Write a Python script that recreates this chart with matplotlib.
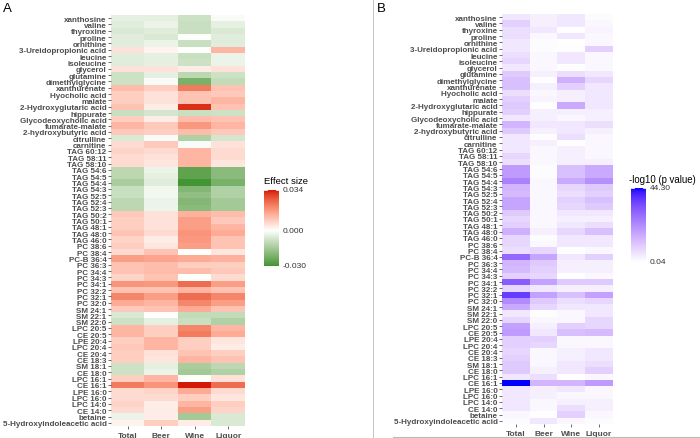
import numpy as np
import matplotlib
matplotlib.use("Agg")
import matplotlib.pyplot as plt
from matplotlib.colors import ListedColormap, Normalize
from matplotlib.lines import Line2D

plt.rcParams['font.family'] = ['Liberation Sans', 'DejaVu Sans']

metabolites = [
    "xanthosine", "valine", "thyroxine", "proline", "ornithine",
    "3-Ureidopropionic acid", "leucine", "isoleucine", "glycerol", "glutamine",
    "dimethylglycine", "xanthurenate", "Hyocholic acid", "malate",
    "2-Hydroxyglutaric acid", "hippurate", "Glycodeoxycholic acid",
    "fumarate-malate", "2-hydroxybutyric acid", "citrulline", "carnitine",
    "TAG 60:12", "TAG 58:11", "TAG 58:10", "TAG 54:6", "TAG 54:5", "TAG 54:4",
    "TAG 54:3", "TAG 52:5", "TAG 52:4", "TAG 52:3", "TAG 50:2", "TAG 50:1",
    "TAG 48:1", "TAG 48:0", "TAG 46:0", "PC 38:6", "PC 38:4", "PC-B 36:4",
    "PC 36:3", "PC 34:4", "PC 34:3", "PC 34:1", "PC 32:2", "PC 32:1", "PC 32:0",
    "SM 24:1", "SM 22:1", "SM 22:0", "LPC 20:5", "CE 20:5", "LPE 20:4",
    "LPC 20:4", "CE 20:4", "CE 18:3", "SM 18:1", "CE 18:0", "LPC 16:1",
    "CE 16:1", "LPE 16:0", "LPC 16:0", "LPC 14:0", "CE 14:0", "betaine",
    "5-Hydroxyindoleacetic acid",
]
groups = ["Total", "Beer", "Wine", "Liquor"]

total_es = [-0.004, -0.005, -0.006, -0.005, -0.005, 0.005, -0.005, -0.005, 0.005, -0.008,
            -0.008, 0.011, 0.008, 0.008, 0.010, -0.009, 0.008, 0.012, 0.009, -0.006,
            0.006, 0.007, 0.006, 0.006, -0.011, -0.011, -0.014, -0.009, -0.009, -0.011,
            -0.011, 0.009, 0.008, 0.008, 0.010, 0.007, 0.008, 0.006, 0.016, 0.010,
            0.010, 0.007, 0.018, 0.010, 0.020, 0.014, 0.009, -0.006, -0.008, 0.012,
            0.012, 0.008, 0.009, 0.008, 0.008, -0.008, -0.008, 0.008, 0.022, 0.006,
            0.006, 0.007, 0.006, -0.003, 0.002]
beer_es = [-0.004, -0.003, -0.005, -0.006, -0.003, 0.002, -0.004, -0.004, 0.005, -0.004,
           -0.001, 0.008, 0.005, 0.005, 0.003, -0.007, 0.003, 0.009, 0.008, -0.001,
           0.009, 0.006, 0.005, 0.004, -0.003, -0.004, -0.005, -0.002, -0.002, -0.003,
           -0.003, 0.005, 0.005, 0.005, 0.006, 0.003, 0.004, 0.010, 0.015, 0.011,
           0.011, 0.010, 0.017, 0.010, 0.016, 0.012, 0.010, 0.000, -0.004, 0.008,
           0.008, 0.012, 0.012, 0.005, 0.004, -0.004, -0.003, 0.012, 0.018, 0.007,
           0.006, 0.003, 0.003, 0.003, 0.008]
wine_es = [-0.008, -0.009, -0.009, 0.000, -0.009, 0.000, -0.009, -0.008, 0.003, -0.011,
           -0.022, 0.022, 0.010, 0.010, 0.032, -0.009, 0.011, 0.017, 0.011, -0.013,
           -0.001, 0.012, 0.012, 0.012, -0.026, -0.026, -0.030, -0.020, -0.018, -0.020,
           -0.019, 0.013, 0.016, 0.016, 0.018, 0.017, 0.016, 0.000, 0.014, 0.008,
           0.011, 0.000, 0.024, 0.012, 0.024, 0.020, 0.014, -0.010, -0.009, 0.020,
           0.022, 0.008, 0.008, 0.010, 0.012, -0.014, -0.015, 0.000, 0.034, 0.014,
           0.008, 0.012, 0.016, -0.015, 0.003]
liquor_es = [-0.001, -0.004, -0.006, -0.005, -0.005, 0.012, -0.003, -0.003, 0.005, -0.008,
             -0.010, 0.010, 0.009, 0.012, 0.010, -0.008, 0.010, 0.012, 0.009, -0.007,
             0.005, 0.006, 0.006, 0.004, -0.019, -0.019, -0.022, -0.013, -0.013, -0.015,
             -0.015, 0.011, 0.009, 0.012, 0.014, 0.010, 0.010, 0.004, 0.013, 0.008,
             0.009, 0.006, 0.016, 0.010, 0.020, 0.016, 0.010, -0.010, -0.013, 0.012,
             0.014, 0.004, 0.003, 0.008, 0.010, -0.011, -0.013, 0.005, 0.024, 0.006,
             0.004, 0.008, 0.007, -0.006, -0.006]

total_p = [4.5, 9, 6, 6, 4.5, 4.5, 6, 7.5, 4.5, 10, 12, 12, 6, 9, 10, 9, 4.5, 14, 10, 4.5,
           4.5, 4.5, 7.5, 6, 19, 19, 24, 14, 13, 17, 17, 10, 7.5, 9, 15, 7.5, 7.5, 6, 29, 14,
           13, 9, 31, 7.5, 37, 22, 16, 4.5, 7.5, 18, 19, 9, 9, 7.5, 9, 10, 10, 4.5, 44.30, 4.5,
           4.5, 4.5, 4.5, 1.5, 0.8]
beer_p = [3, 3, 4.5, 1.5, 0.8, 0.8, 1.5, 1.5, 1.5, 3, 0.2, 3, 1.5, 2.2, 0.2, 3, 3, 4.5, 3, 0.4,
          3, 1.5, 1.5, 1.5, 0.8, 0.8, 1.5, 1.5, 1.5, 1.5, 1.5, 1.5, 1.5, 1.5, 3, 0.8, 1.5, 7.5, 17, 10,
          9, 7.5, 18, 4.5, 18, 10, 7.5, 0.4, 1.5, 3, 4.5, 9, 7.5, 1.5, 1.5, 1.5, 3, 6, 14, 3,
          3, 1.5, 1.5, 0.2, 4.5]
wine_p = [4.5, 4.5, 0.2, 4.5, 0.2, 0.4, 4.5, 4.5, 0.2, 6, 15, 9, 3, 3, 16, 3, 1.5, 4.5, 4.5, 6,
          0.2, 3, 3, 3, 12, 12, 16, 7.5, 6, 9, 7.5, 4.5, 3, 4.5, 7.5, 4.5, 4.5, 0.2, 4.5, 3,
          3, 0.2, 10, 3, 12, 6, 4.5, 1.5, 1.5, 9, 12, 1.5, 1.5, 3, 3, 4.5, 4.5, 0.2, 14, 4.5,
          1.5, 3, 6, 9, 1.5]
liquor_p = [0.8, 1.5, 2.2, 1.5, 1.5, 9, 1.5, 1.5, 1.5, 4.5, 7.5, 4.5, 4.5, 4.5, 4.5, 3, 3, 6, 3, 1.5,
            1.5, 1.5, 1.5, 3, 16, 16, 21, 10, 9, 12, 10, 4.5, 3, 6, 12, 4.5, 4.5, 1.5, 9, 3,
            3, 1.5, 10, 3, 18, 7.5, 4.5, 4.5, 7.5, 7.5, 13, 1.5, 1.5, 4.5, 4.5, 6, 9, 1.5, 19, 1.5,
            1.5, 3, 3, 1.5, 0.8]

es_min, es_max = -0.030, 0.034
p_min, p_max = 0.04, 44.30

# ---------- Lab colour ramps (like ggplot2) ----------
M = np.array([[0.4124564, 0.3575761, 0.1804375],
              [0.2126729, 0.7151522, 0.0721750],
              [0.0193339, 0.1191920, 0.9503041]])
WP = np.array([0.95047, 1.0, 1.08883])


def rgb2lab(rgb):
    c = np.asarray(rgb, float)
    lin = np.where(c <= 0.04045, c / 12.92, ((c + 0.055) / 1.055) ** 2.4)
    xyz = M @ lin / WP
    d = 6 / 29
    f = np.where(xyz > d ** 3, np.cbrt(xyz), xyz / (3 * d * d) + 4 / 29)
    return np.array([116 * f[1] - 16, 500 * (f[0] - f[1]), 200 * (f[1] - f[2])])


def lab2rgb(lab):
    L, a, b = lab
    fy = (L + 16) / 116
    fx = fy + a / 500
    fz = fy - b / 200
    d = 6 / 29
    f = np.array([fx, fy, fz])
    xyz = np.where(f > d, f ** 3, 3 * d * d * (f - 4 / 29)) * WP
    lin = np.linalg.solve(M, xyz)
    lin = np.clip(lin, 0, 1)
    c = np.where(lin <= 0.0031308, 12.92 * lin, 1.055 * lin ** (1 / 2.4) - 0.055)
    return np.clip(c, 0, 1)


def lab_ramp(colors, n=256):
    labs = [rgb2lab(np.array(c) / 255.0) for c in colors]
    out = []
    segs = len(labs) - 1
    for t in np.linspace(0, 1, n):
        s = min(int(t * segs), segs - 1)
        u = t * segs - s
        out.append(lab2rgb(labs[s] * (1 - u) + labs[s + 1] * u))
    return ListedColormap(out)


cmap_es = lab_ramp([(30, 135, 20), (255, 255, 255), (214, 24, 8)])
norm_es = Normalize(vmin=-max(abs(es_min), es_max), vmax=max(abs(es_min), es_max))
cmap_p = lab_ramp([(255, 255, 255), (0, 0, 255)])
norm_p = Normalize(vmin=p_min, vmax=p_max)

es = np.column_stack([total_es, beer_es, wine_es, liquor_es])
pv = np.column_stack([total_p, beer_p, wine_p, liquor_p])

W, H = 700, 439
fig = plt.figure(figsize=(7, 4.39), dpi=100)


def box(x0, y0, x1, y1):
    return [x0 / W, 1 - y1 / H, (x1 - x0) / W, (y1 - y0) / H]


txt_col = '#4D4D4D'
lab_fs = 5.75


def heat(ax, data, cmap, norm):
    ax.imshow(data, cmap=cmap, norm=norm, aspect='auto', interpolation='nearest')
    ax.set_yticks(range(len(metabolites)))
    ax.set_yticklabels(metabolites, fontsize=lab_fs, fontweight='bold', color=txt_col)
    ax.set_xticks(range(len(groups)))
    ax.set_xticklabels(groups, fontsize=6.0, fontweight='bold', color=txt_col)
    ax.tick_params(axis='both', length=2, width=0.6, color='#555555', pad=1.2)
    ax.tick_params(axis='x', pad=2.5)
    for s in ax.spines.values():
        s.set_visible(False)


ax1 = fig.add_axes(box(111, 16, 245, 427))
heat(ax1, es, cmap_es, norm_es)
ax2 = fig.add_axes(box(502, 15, 613, 425))
heat(ax2, pv, cmap_p, norm_p)


def legend_bar(x0, y0, x1, y1, vmin, vmax, cmap, norm, title, ticklabels, tx, ty, tfs):
    cax = fig.add_axes(box(x0, y0, x1, y1))
    grad = np.linspace(vmax, vmin, 300).reshape(-1, 1)
    cax.imshow(grad, cmap=cmap, norm=norm, aspect='auto', extent=[0, 1, vmin, vmax])
    cax.set_xlim(0, 1)
    cax.set_ylim(vmin, vmax)
    cax.axis('off')
    for val, lab in ticklabels:
        cax.plot([0, 0.2], [val, val], color='white', lw=0.6)
        cax.plot([0.8, 1], [val, val], color='white', lw=0.6)
        cax.text(1.25, val, lab, fontsize=6.0, color='#333333', va='center', ha='left')
    fig.text(tx / W, 1 - ty / H, title, fontsize=tfs, color='black', ha='left', va='center')


legend_bar(264, 191, 279, 267, es_min, es_max, cmap_es, norm_es, "Effect size",
           [(es_max, "0.034"), (0.0, "0.000"), (es_min, "-0.030")], 264, 182, 6.8)
legend_bar(631, 189, 646, 263, p_min, p_max, cmap_p, norm_p, "-log10 (p value)",
           [(p_max, "44.30"), (p_min, "0.04")], 629, 180, 6.9)

fig.text(3 / W, 1 - 9 / H, "A", fontsize=9.5, ha='left', va='center')
fig.text(377 / W, 1 - 9 / H, "B", fontsize=9.5, ha='left', va='center')

fig.add_artist(Line2D([373 / W, 373 / W], [0, 1], color='#BBBBBB', lw=0.6))
fig.add_artist(Line2D([393 / W, 1], [1 - 437.5 / H, 1 - 437.5 / H], color='#BBBBBB', lw=0.8))

fig.savefig("out.png", dpi=100)
